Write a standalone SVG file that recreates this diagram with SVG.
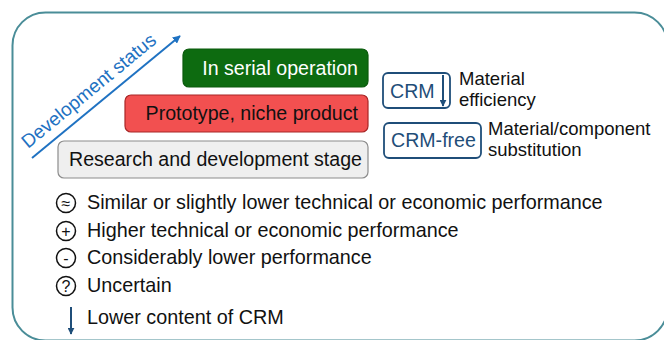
<svg xmlns="http://www.w3.org/2000/svg" width="664" height="340" viewBox="0 0 664 340">
  <defs>
    <style>
      text { font-family: "Liberation Sans", Arial, sans-serif; font-size: 19.6px; fill: #111; }
      .frame { fill: #fff; stroke: #4a8d98; stroke-width: 2; }
      .stage { stroke-width: 1.2; }
      .crm { fill: #fff; stroke: #1f4e79; stroke-width: 1.8; }
      .crmtxt { fill: #1f4e79; }
      .note { font-size: 18.5px; }
      .legend { font-size: 19.8px; }
      .sym { fill: none; stroke: #111; stroke-width: 1.5; }
      .symtxt { font-size: 16px; text-anchor: middle; }
    </style>
    <marker id="headBlue" viewBox="0 0 10 10" refX="9" refY="5" markerWidth="4" markerHeight="4" orient="auto">
      <path d="M0,0 L10,5 L0,10 z" fill="#1f72c2"/>
    </marker>
    <marker id="headNavy" viewBox="0 0 10 10" refX="9" refY="5" markerWidth="3.5" markerHeight="3.5" orient="auto">
      <path d="M0,0 L10,5 L0,10 z" fill="#1f4e79"/>
    </marker>
  </defs>

  <rect width="664" height="340" fill="#fff"/>
  <rect class="frame" x="12.5" y="12.5" width="655" height="328" rx="33" ry="33"/>

  <!-- development status axis -->
  <g id="connectors">
    <line x1="32" y1="158" x2="180" y2="36" stroke="#1f72c2" stroke-width="2" marker-end="url(#headBlue)"/>
  </g>
  <text transform="translate(28,149) rotate(-39.5)" style="font-size:19px; fill:#1f72c2">Development status</text>

  <!-- stages -->
  <g id="stage-serial">
    <rect class="stage" x="183" y="49" width="185" height="38" rx="6" fill="#0d6b10" stroke="#0a5a0c"/>
    <text x="358" y="75" text-anchor="end" style="fill:#fff">In serial operation</text>
  </g>
  <g id="stage-prototype">
    <rect class="stage" x="125" y="95" width="243" height="37" rx="6" fill="#f25050" stroke="#a82626"/>
    <text x="358" y="120" text-anchor="end">Prototype, niche product</text>
  </g>
  <g id="stage-research">
    <rect class="stage" x="58" y="141" width="310" height="37" rx="6" fill="#efefef" stroke="#8c8c8c"/>
    <text x="362" y="166" text-anchor="end">Research and development stage</text>
  </g>

  <!-- CRM strategies -->
  <g id="crm-efficiency">
    <rect class="crm" x="383" y="73" width="67" height="35" rx="5"/>
    <text class="crmtxt" x="390" y="98">CRM</text>
    <line x1="443" y1="75" x2="443" y2="106" stroke="#1f4e79" stroke-width="2" marker-end="url(#headNavy)"/>
    <text class="note" x="459" y="85">Material</text>
    <text class="note" x="459" y="106">efficiency</text>
  </g>
  <g id="crm-free">
    <rect class="crm" x="384" y="123" width="97" height="35" rx="5"/>
    <text class="crmtxt" x="391" y="147">CRM-free</text>
    <text class="note" x="488" y="135">Material/component</text>
    <text class="note" x="488" y="156">substitution</text>
  </g>

  <!-- legend -->
  <g id="legend-similar">
    <circle class="sym" cx="66" cy="203" r="9.5"/>
    <text class="symtxt" x="66" y="208.5">≈</text>
    <text class="legend" x="87" y="209">Similar or slightly lower technical or economic performance</text>
  </g>
  <g id="legend-higher">
    <circle class="sym" cx="66" cy="231" r="9.5"/>
    <text class="symtxt" x="66" y="236.5">+</text>
    <text class="legend" x="87" y="237">Higher technical or economic performance</text>
  </g>
  <g id="legend-lower">
    <circle class="sym" cx="66" cy="258" r="9.5"/>
    <text class="symtxt" x="66" y="263.5">-</text>
    <text class="legend" x="87" y="264">Considerably lower performance</text>
  </g>
  <g id="legend-uncertain">
    <circle class="sym" cx="66" cy="286" r="9.5"/>
    <text class="symtxt" x="66" y="291.5">?</text>
    <text class="legend" x="87" y="292">Uncertain</text>
  </g>
  <g id="legend-crm">
    <line x1="71" y1="307" x2="71" y2="334" stroke="#1f4e79" stroke-width="2" marker-end="url(#headNavy)"/>
    <text class="legend" x="87" y="324">Lower content of CRM</text>
  </g>
</svg>
